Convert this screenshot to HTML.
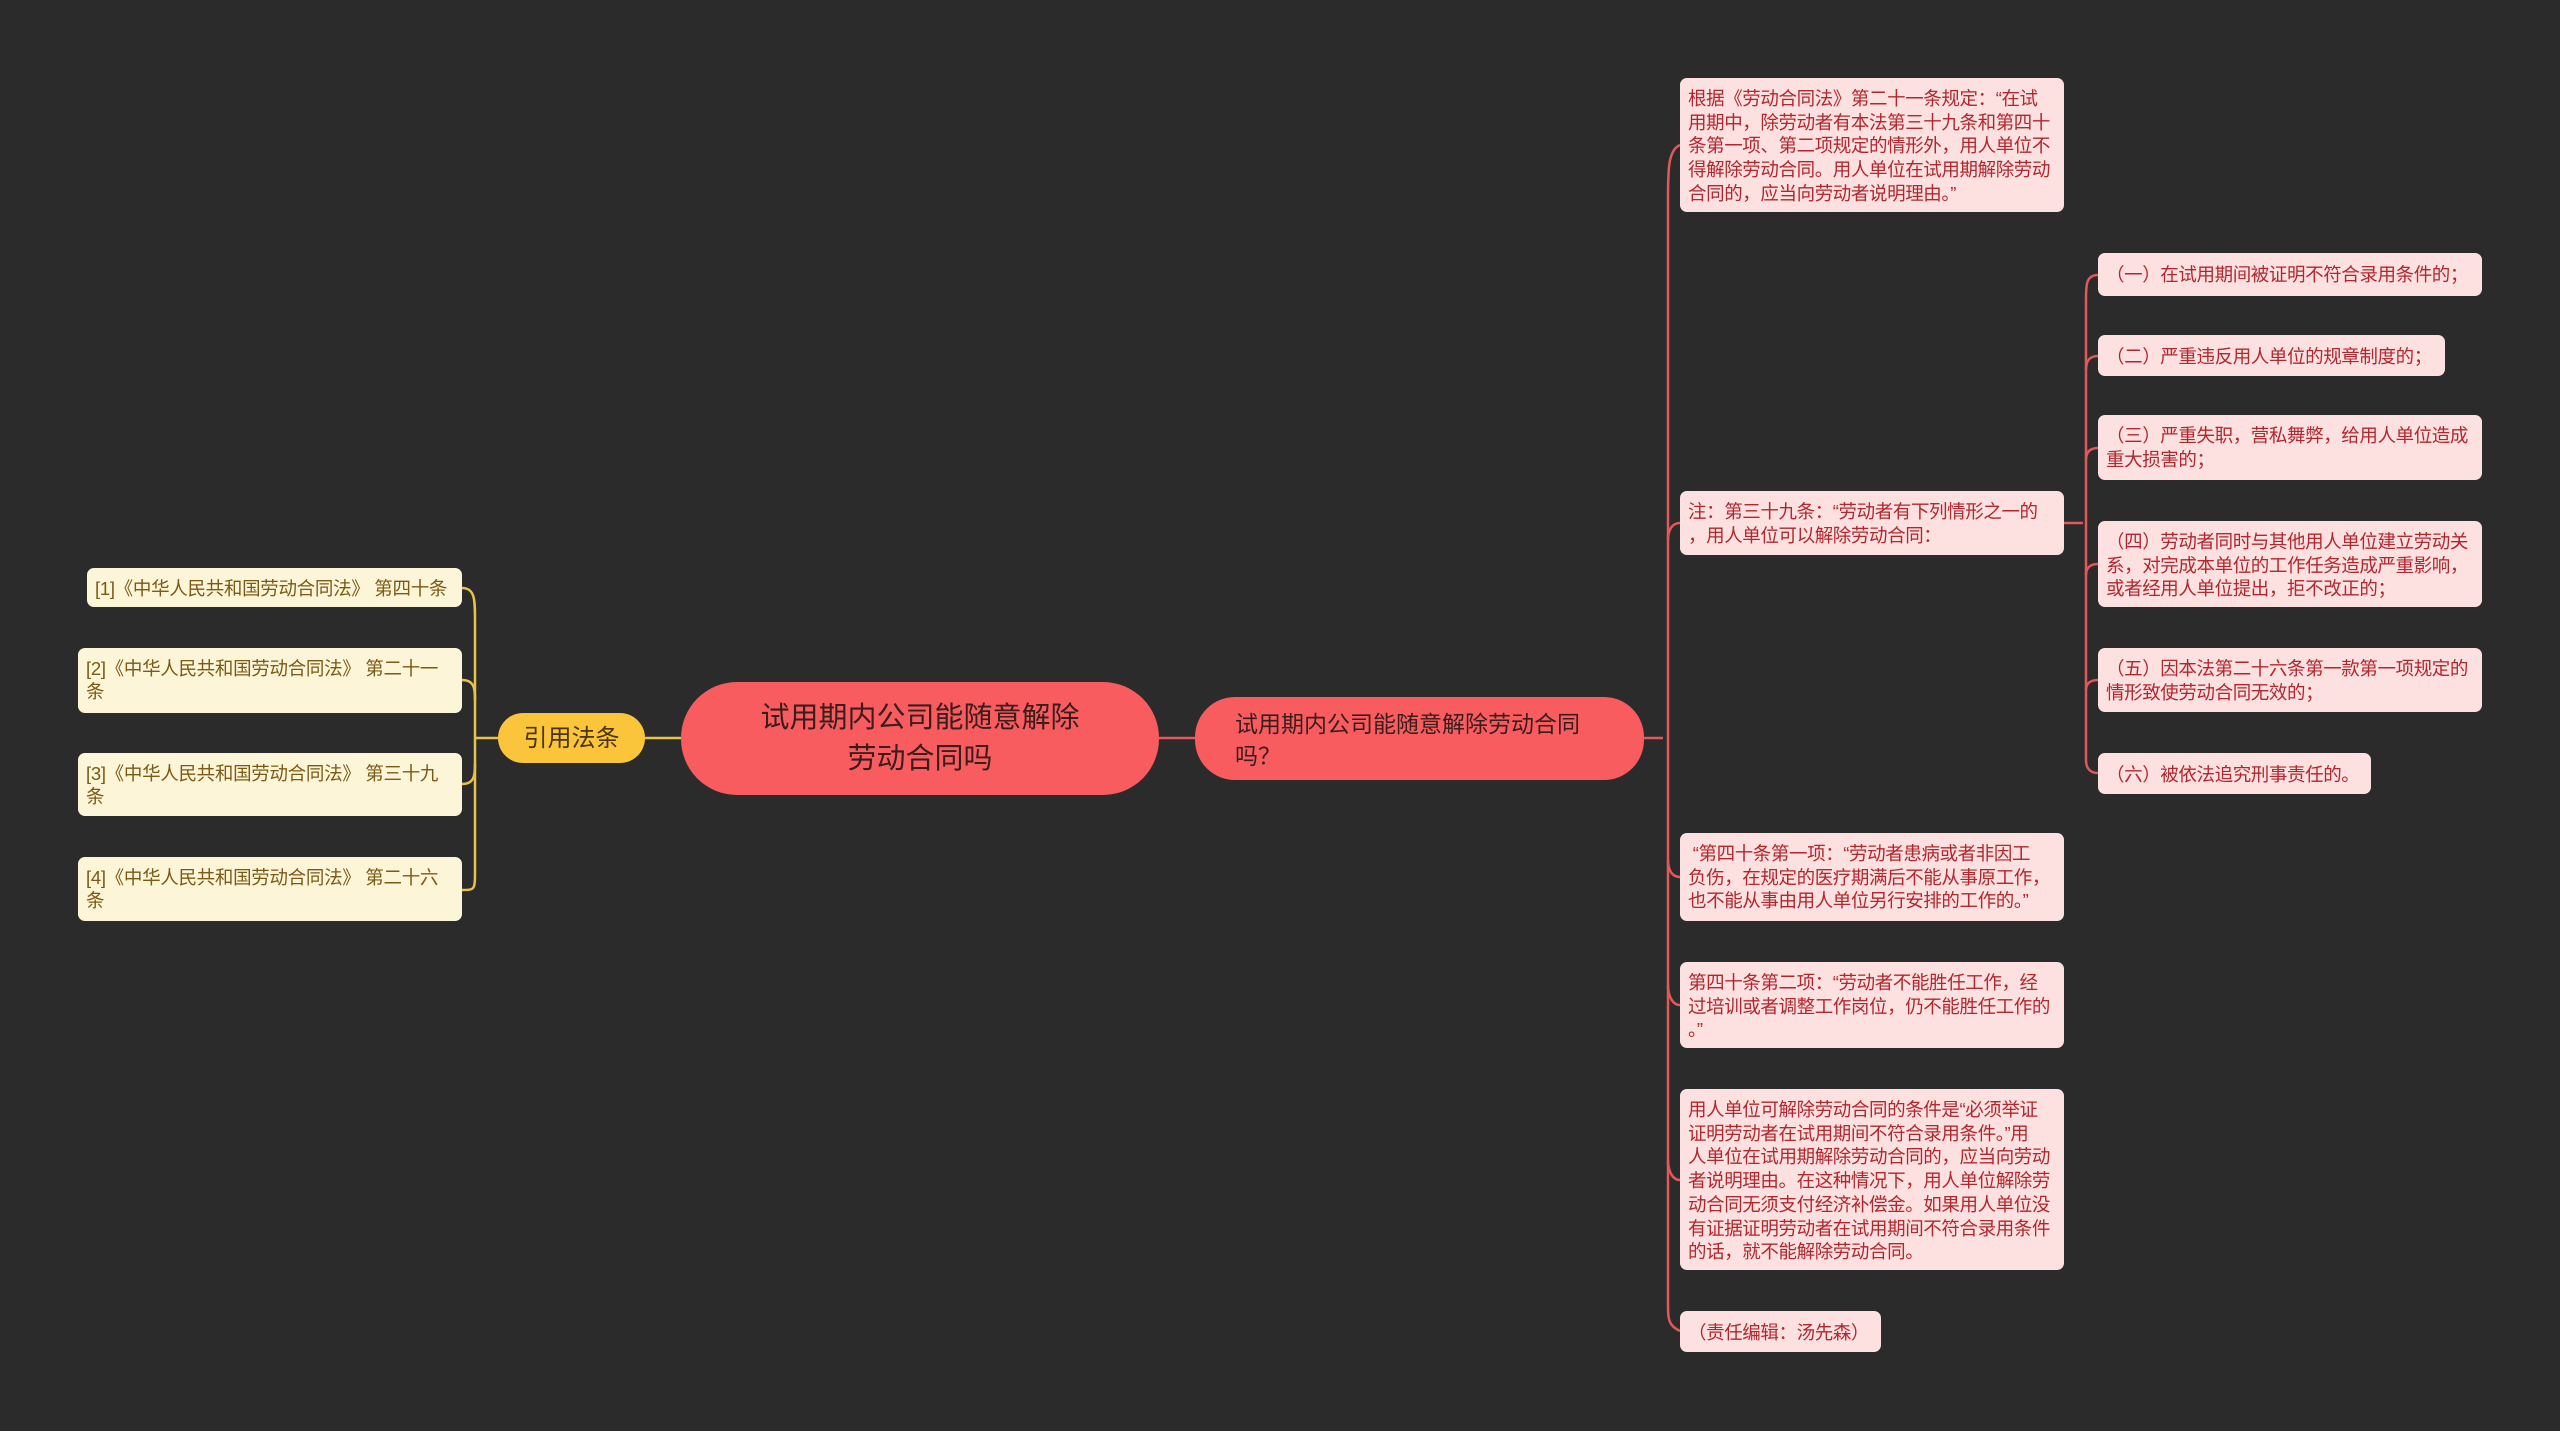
<!DOCTYPE html>
<html><head><meta charset="utf-8"><style>
html,body{margin:0;padding:0;width:2560px;height:1431px;overflow:hidden;background:#2b2b2b;font-family:"Liberation Sans","Noto Sans CJK SC",sans-serif;}
.b{position:absolute;box-sizing:border-box;border-radius:7px;white-space:nowrap;overflow:hidden;}
.r{background:#fde1e1;color:#b2262d;font-size:18.5px;letter-spacing:-0.4px;line-height:23.7px;padding:9px 8px 7px 8px;}
.y{background:#fdf5d8;color:#7a5a14;font-size:18.5px;letter-spacing:-0.3px;line-height:23px;padding:9px 8px 7px 8px;}
svg{position:absolute;left:0;top:0;}
</style></head><body>
<svg width="2560" height="1431" fill="none">
<g stroke="#e8c24a" stroke-width="2.5">
<path d="M645 738 H681"/>
<path d="M462 588 C475 588 475 600 475 620 V870 C475 890 475 890 462 890"/>
<path d="M462 680 C475 680 475 690 475 700"/>
<path d="M462 784 C475 784 475 774 475 764"/>
<path d="M475 738 H498"/>
</g>
<g stroke="#e2585b" stroke-width="2.5">
<path d="M1159 738 H1195"/>
<path d="M1644 738 H1663"/>
<path d="M1680 145 C1668 150 1668 170 1668 200 V1300 C1668 1320 1668 1325 1680 1331"/>
<path d="M1668 540 C1668 530 1672 523 1680 523"/>
<path d="M1668 860 C1668 870 1672 877 1680 877"/>
<path d="M1668 985 C1668 995 1672 1005 1680 1005"/>
<path d="M1668 1160 C1668 1170 1672 1180 1680 1180"/>
<path d="M2064 523 H2083"/>
<path d="M2098 275 C2086 275 2086 285 2086 300 V760 C2086 768 2090 773 2098 773"/>
<path d="M2086 370 C2086 360 2090 356 2098 356"/>
<path d="M2086 460 C2086 452 2090 448 2098 448"/>
<path d="M2086 575 C2086 568 2090 564 2098 564"/>
<path d="M2086 690 C2086 684 2090 680 2098 680"/>
</g>
</svg>

<div class="b" style="left:681px;top:682px;width:478px;height:113px;border-radius:56px;background:#f95c5f;color:#3a1d1d;font-size:29px;line-height:41px;text-align:center;padding-top:16px;">试用期内公司能随意解除<br>劳动合同吗</div>
<div class="b" style="left:1195px;top:697px;width:449px;height:83px;border-radius:40px;background:#f95c5f;color:#3a1d1d;font-size:23px;line-height:32px;padding:11px 0 0 40px;">试用期内公司能随意解除劳动合同<br>吗？</div>
<div class="b" style="left:498px;top:713px;width:147px;height:50px;border-radius:25px;background:#fbc53b;color:#4a3510;font-size:24px;line-height:52px;text-align:center;">引用法条</div>

<div class="b y" style="left:87px;top:568px;width:375px;height:39px;padding-top:9px;">[1]《中华人民共和国劳动合同法》 第四十条</div>
<div class="b y" style="left:78px;top:648px;width:384px;height:65px;">[2]《中华人民共和国劳动合同法》 第二十一<br>条</div>
<div class="b y" style="left:78px;top:753px;width:384px;height:63px;">[3]《中华人民共和国劳动合同法》 第三十九<br>条</div>
<div class="b y" style="left:78px;top:857px;width:384px;height:64px;">[4]《中华人民共和国劳动合同法》 第二十六<br>条</div>

<div class="b r" style="left:1680px;top:78px;width:384px;height:134px;">根据《劳动合同法》第二十一条规定：“在试<br>用期中，除劳动者有本法第三十九条和第四十<br>条第一项、第二项规定的情形外，用人单位不<br>得解除劳动合同。用人单位在试用期解除劳动<br>合同的，应当向劳动者说明理由。”</div>
<div class="b r" style="left:1680px;top:491px;width:384px;height:64px;">注：第三十九条：“劳动者有下列情形之一的<br>，用人单位可以解除劳动合同：</div>
<div class="b r" style="left:1680px;top:833px;width:384px;height:88px;">&nbsp;“第四十条第一项：“劳动者患病或者非因工<br>负伤，在规定的医疗期满后不能从事原工作，<br>也不能从事由用人单位另行安排的工作的。”</div>
<div class="b r" style="left:1680px;top:962px;width:384px;height:86px;">第四十条第二项：“劳动者不能胜任工作，经<br>过培训或者调整工作岗位，仍不能胜任工作的<br>。”</div>
<div class="b r" style="left:1680px;top:1089px;width:384px;height:181px;">用人单位可解除劳动合同的条件是“必须举证<br>证明劳动者在试用期间不符合录用条件。”用<br>人单位在试用期解除劳动合同的，应当向劳动<br>者说明理由。在这种情况下，用人单位解除劳<br>动合同无须支付经济补偿金。如果用人单位没<br>有证据证明劳动者在试用期间不符合录用条件<br>的话，就不能解除劳动合同。</div>
<div class="b r" style="left:1680px;top:1311px;width:201px;height:41px;padding-top:10px;">（责任编辑：汤先森）</div>

<div class="b r" style="left:2098px;top:253px;width:384px;height:43px;padding-top:10px;">（一）在试用期间被证明不符合录用条件的；</div>
<div class="b r" style="left:2098px;top:335px;width:347px;height:41px;padding-top:10px;">（二）严重违反用人单位的规章制度的；</div>
<div class="b r" style="left:2098px;top:415px;width:384px;height:65px;">（三）严重失职，营私舞弊，给用人单位造成<br>重大损害的；</div>
<div class="b r" style="left:2098px;top:521px;width:384px;height:86px;">（四）劳动者同时与其他用人单位建立劳动关<br>系，对完成本单位的工作任务造成严重影响，<br>或者经用人单位提出，拒不改正的；</div>
<div class="b r" style="left:2098px;top:648px;width:384px;height:64px;">（五）因本法第二十六条第一款第一项规定的<br>情形致使劳动合同无效的；</div>
<div class="b r" style="left:2098px;top:753px;width:273px;height:41px;padding-top:10px;">（六）被依法追究刑事责任的。</div>
</body></html>
